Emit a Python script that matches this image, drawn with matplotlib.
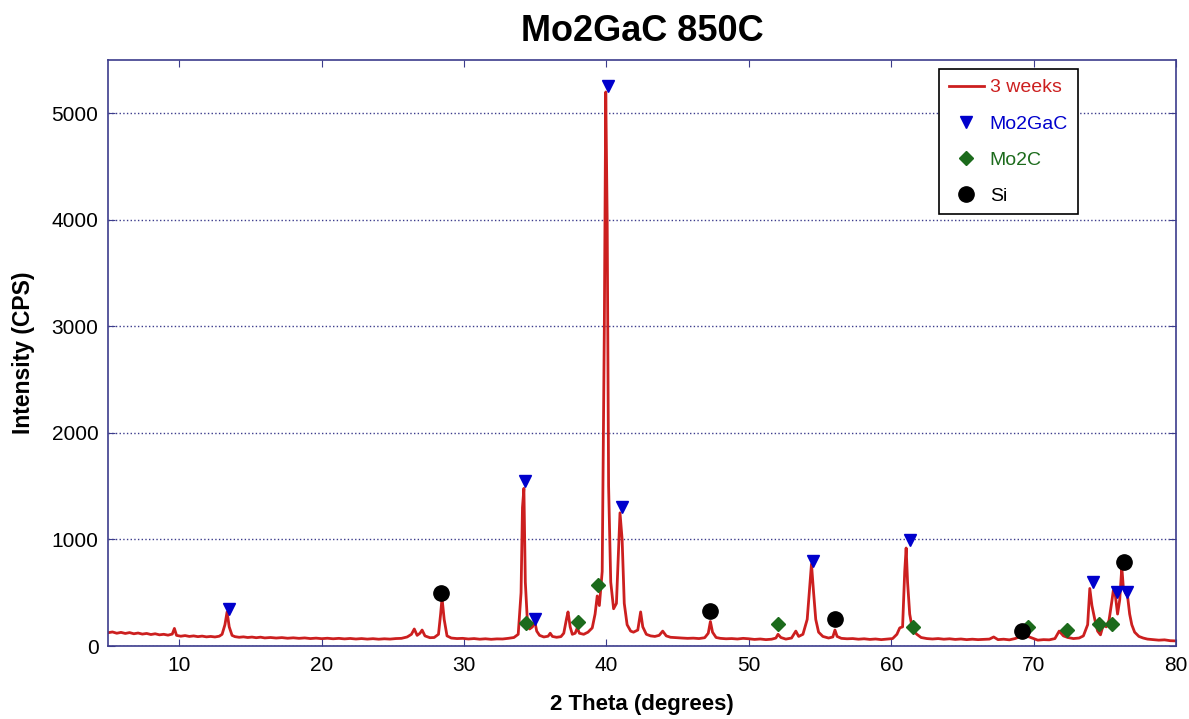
import numpy as np
import matplotlib
matplotlib.use("Agg")
import matplotlib.pyplot as plt

plt.rcParams['font.family'] = ['Liberation Sans', 'DejaVu Sans']

two_theta = [
    5.0, 5.3, 5.6, 5.9, 6.2, 6.5, 6.8, 7.1, 7.4, 7.7, 8.0, 8.3, 8.6, 8.9, 9.2, 9.5, 9.65, 9.8,
    10.1, 10.4, 10.7, 11.0, 11.3, 11.6, 11.9, 12.2, 12.5, 12.8, 13.0, 13.2, 13.35, 13.5, 13.7, 13.9,
    14.2, 14.5, 14.8, 15.1, 15.4, 15.7, 16.0, 16.4, 16.8, 17.2, 17.6, 18.0, 18.4, 18.8, 19.2, 19.6,
    20.0, 20.4, 20.8, 21.2, 21.6, 22.0, 22.4, 22.8, 23.2, 23.6, 24.0, 24.4, 24.8, 25.2, 25.6, 26.0,
    26.3, 26.5, 26.7, 26.9, 27.05, 27.25, 27.6, 27.9, 28.2, 28.35, 28.45, 28.6, 28.8, 29.1, 29.5,
    29.9, 30.3, 30.7, 31.1, 31.5, 31.9, 32.3, 32.7, 33.1, 33.5, 33.8, 34.0, 34.1, 34.2, 34.3, 34.45,
    34.6, 34.8, 34.95, 35.1, 35.3, 35.6, 35.9, 36.05, 36.2, 36.5, 36.8, 37.0, 37.2, 37.3, 37.45,
    37.6, 37.8, 37.95, 38.1, 38.4, 38.7, 39.0, 39.2, 39.35, 39.5, 39.7, 39.85, 39.95, 40.05, 40.15,
    40.3, 40.5, 40.7, 40.85, 40.95, 41.1, 41.25, 41.45, 41.7, 41.9, 42.2, 42.4, 42.55, 42.8, 43.1,
    43.4, 43.7, 43.95, 44.2, 44.5, 44.9, 45.3, 45.7, 46.1, 46.5, 46.9, 47.15, 47.3, 47.45, 47.7,
    48.0, 48.4, 48.8, 49.2, 49.6, 50.0, 50.4, 50.8, 51.2, 51.6, 51.9, 52.05, 52.25, 52.6, 53.0,
    53.3, 53.5, 53.8, 54.1, 54.3, 54.4, 54.55, 54.7, 54.9, 55.2, 55.6, 55.9, 56.05, 56.2, 56.5,
    56.9, 57.3, 57.7, 58.1, 58.5, 58.9, 59.3, 59.7, 60.1, 60.4, 60.6, 60.8, 60.95, 61.05, 61.15,
    61.3, 61.5, 61.8, 62.1, 62.5, 62.9, 63.3, 63.7, 64.1, 64.5, 64.9, 65.3, 65.7, 66.1, 66.5, 66.9,
    67.2, 67.5, 67.9, 68.3, 68.7, 69.0, 69.3, 69.6, 69.9, 70.3, 70.7, 71.1, 71.5, 71.8, 72.1, 72.4,
    72.8, 73.2, 73.5, 73.8, 73.95, 74.1, 74.3, 74.5, 74.7, 74.9, 75.1, 75.3, 75.5, 75.6, 75.75,
    75.9, 76.05, 76.2, 76.3, 76.45, 76.6, 76.75, 76.9, 77.1, 77.4, 77.7, 78.0, 78.4, 78.8, 79.2,
    79.6, 80.0]
intensity = [
    125, 132, 120, 128, 118, 126, 115, 122, 112, 118, 108, 115, 105, 110, 102, 112, 165, 100,
    92, 98, 90, 95, 88, 93, 86, 90, 85, 92, 110, 200, 320, 180, 100, 88,
    82, 86, 80, 84, 78, 83, 76, 80, 75, 79, 73, 77, 72, 76, 70, 74,
    69, 73, 68, 72, 67, 71, 66, 70, 65, 69, 64, 68, 65, 70, 72, 85,
    110, 160, 100, 120, 150, 95, 78, 80, 110, 300, 450, 250, 95, 75, 70,
    72, 66, 70, 64, 68, 63, 67, 66, 72, 80, 110, 500, 1300, 1480, 600, 220,
    160, 180, 240, 140, 100, 85, 92, 120, 90, 82, 88, 120, 260, 320, 180,
    110, 120, 170, 120, 110, 130, 170, 300, 470, 380, 700, 3000, 5200, 4000, 1500,
    600, 350, 400, 900, 1250, 1000, 400, 200, 140, 130, 150, 320, 180, 110, 95,
    90, 100, 140, 95, 82, 78, 75, 72, 74, 70, 78, 120, 230, 130, 80,
    72, 68, 70, 66, 72, 68, 62, 66, 60, 64, 75, 110, 80, 65, 75,
    140, 90, 110, 250, 600, 770, 500, 250, 130, 90, 75, 85, 150, 90, 72,
    68, 70, 64, 68, 62, 66, 60, 65, 70, 110, 170, 180, 700, 920, 600,
    300, 150, 110, 80, 70, 66, 70, 64, 68, 62, 66, 60, 64, 60, 63, 65,
    85, 60, 64, 58, 70, 85, 110, 90, 75, 55, 60, 58, 70, 140, 95, 80,
    70, 75, 95, 200, 540, 380, 250, 140, 105, 200, 180, 240, 420, 520, 470,
    300, 430, 740, 560, 500, 470, 300, 200, 130, 90, 75, 65, 60, 55, 58,
    50, 48]

# phase markers
mo2gac_x = [13.5, 34.28, 34.98, 40.1, 41.1, 54.5, 61.3, 74.2, 75.86, 76.56]
mo2gac_y = [350, 1551, 254, 5254, 1306, 799, 996, 600, 508, 508]
mo2c_x = [34.35, 38.0, 39.4, 52.05, 61.5, 69.6, 72.35, 74.6, 75.5]
mo2c_y = [216, 225, 573, 207, 178, 178, 150, 207, 207]
si_x = [28.4, 47.3, 56.05, 69.2, 76.35]
si_y = [498, 329, 254, 141, 790]

navy = '#3c3c8c'

fig = plt.figure(figsize=(11.89, 7.19), dpi=100)
ax = fig.add_axes([0.091, 0.1015, 0.898, 0.815])

ax.plot(two_theta, intensity, color='#cc1f1f', lw=2, label='3 weeks')
ax.plot(mo2gac_x, mo2gac_y, ls='none', marker='v', color='#0000cc', ms=9, label='Mo2GaC')
ax.plot(mo2c_x, mo2c_y, ls='none', marker='D', color='#1c6b1c', ms=7, label='Mo2C')
ax.plot(si_x, si_y, ls='none', marker='o', color='black', ms=11, label='Si')

ax.set_xlim(5, 80)
ax.set_ylim(0, 5500)
ax.set_xticks(range(10, 81, 10))
ax.set_yticks(range(0, 5001, 1000))
ax.yaxis.grid(True, ls=':', color=navy, lw=1)
ax.tick_params(direction='in', top=True, right=True, color=navy, labelsize=15, length=5, pad=7)
for sp in ax.spines.values():
    sp.set_color(navy)
    sp.set_linewidth(1.2)

ax.set_title('Mo2GaC 850C', fontsize=26, fontweight='bold', pad=14)
ax.set_xlabel('2 Theta (degrees)', fontsize=16, fontweight='bold', labelpad=14)
ax.set_ylabel('Intensity (CPS)', fontsize=16.5, fontweight='bold', labelpad=12)

leg = ax.legend(loc='upper right', bbox_to_anchor=(0.9135, 0.9945), fontsize=14,
                fancybox=False, framealpha=1, edgecolor='black', handlelength=1.8,
                handletextpad=0.3, borderpad=0.5, labelspacing=0.95, borderaxespad=0.3)
leg.get_frame().set_linewidth(1.2)
for txt, c in zip(leg.get_texts(), ['#cc1f1f', '#0000cc', '#1c6b1c', 'black']):
    txt.set_color(c)

fig.savefig('out.png', dpi=100)
